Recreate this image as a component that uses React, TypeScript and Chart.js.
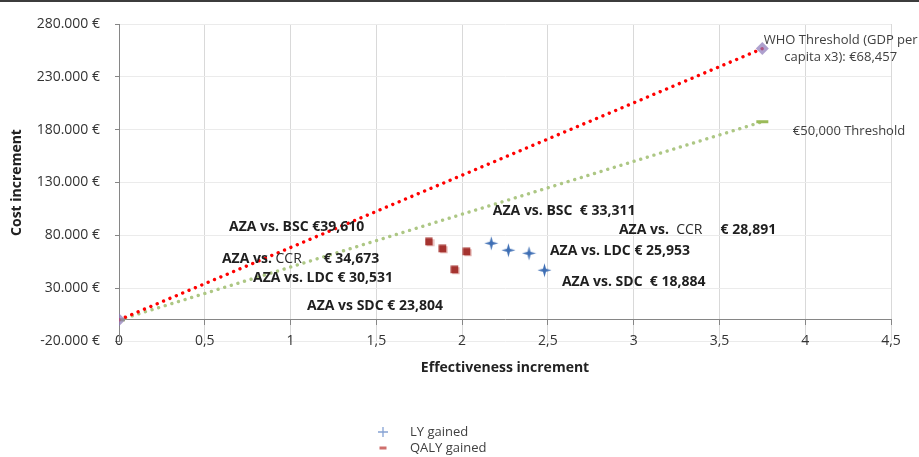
import React, { useEffect, useRef } from "react";
import { Chart, registerables } from "chart.js";

Chart.register(...registerables);

// ---------- data ----------
const xMin = 0;
const xMax = 4.5;
const xStep = 0.5;
const yMin = -20000;
const yMax = 280000;
const yStep = 50000;

const seriesNames = ["LY gained", "QALY gained"];

const lyEffect = [2.17, 2.27, 2.39, 2.48];
const lyCost = [72500, 65900, 63000, 47000];

const qalyEffect = [1.81, 1.89, 2.03, 1.96];
const qalyCost = [73400, 66800, 64000, 47000];

const whoEffect = [0, 3.75];
const whoCost = [0, 256714];

const thr50Effect = [0, 3.75];
const thr50Cost = [0, 187500];

const xTitle = "Effectiveness increment";
const yTitle = "Cost increment";

type Seg = { t: string; bold: boolean };

const qalyLabels: Seg[][] = [
  [{ t: "AZA vs. BSC €39,610", bold: true }],
  [
    { t: "AZA vs. ", bold: true },
    { t: "CCR", bold: false },
    { t: "      € 34,673", bold: true },
  ],
  [{ t: "AZA vs. LDC € 30,531", bold: true }],
  [{ t: "AZA vs SDC € 23,804", bold: true }],
];
const qalyLabelAt: [number, number][] = [
  [0.641, 87500],
  [0.6, 57400],
  [0.781, 39400],
  [1.096, 13000],
];

const lyLabels: Seg[][] = [
  [{ t: "AZA vs. BSC  € 33,311", bold: true }],
  [
    { t: "AZA vs.  ", bold: true },
    { t: "CCR", bold: false },
    { t: "     € 28,891", bold: true },
  ],
  [{ t: "AZA vs. LDC € 25,953", bold: true }],
  [{ t: "AZA vs. SDC  € 18,884", bold: true }],
];
const lyLabelAt: [number, number][] = [
  [2.179, 102600],
  [2.914, 84700],
  [2.512, 64900],
  [2.582, 35700],
];

const whoLabel = ["WHO Threshold (GDP per", "capita x3): €68,457"];
const whoLabelAt: [number, number] = [4.207, 264900];
const thr50Label = "€50,000 Threshold";
const thr50LabelAt: [number, number] = [3.928, 178100];

// ---------- helpers ----------
const FONT = "'Open Sans', 'Noto Sans', sans-serif";

function makeStar(): HTMLCanvasElement {
  const c = document.createElement("canvas");
  c.width = 15;
  c.height = 15;
  const g = c.getContext("2d")!;
  const cx = 7.5,
    cy = 7.5,
    R = 7,
    r = 2.1;
  g.beginPath();
  for (let i = 0; i < 8; i++) {
    const a = -Math.PI / 2 + (i * Math.PI) / 4;
    const rad = i % 2 === 0 ? R : r;
    g.lineTo(cx + rad * Math.cos(a), cy + rad * Math.sin(a));
  }
  g.closePath();
  g.fillStyle = "#3E6EB4";
  g.fill();
  return c;
}

function makeSquare(): HTMLCanvasElement {
  const c = document.createElement("canvas");
  c.width = 10;
  c.height = 10;
  const g = c.getContext("2d")!;
  g.fillStyle = "rgba(205,120,115,0.55)";
  g.fillRect(2, 2, 7.5, 7);
  g.fillStyle = "#A5332F";
  g.fillRect(0.5, 0.5, 7.5, 7.5);
  return c;
}

function fmtThousands(v: number): string {
  const s = Math.abs(Math.round(v)).toString().replace(/\B(?=(\d{3})+(?!\d))/g, ".");
  return (v < 0 ? "-" : "") + s + " €";
}

const annotationPlugin = {
  id: "annotations",
  afterDatasetsDraw(chart: any) {
    const ctx = chart.ctx as CanvasRenderingContext2D;
    const xs = chart.scales.x;
    const ys = chart.scales.y;
    ctx.save();
    ctx.textBaseline = "middle";
    ctx.textAlign = "left";
    const drawSegs = (segs: Seg[], at: [number, number]) => {
      let px = xs.getPixelForValue(at[0]);
      const py = ys.getPixelForValue(at[1]);
      for (const s of segs) {
        ctx.font = (s.bold ? "bold " : "") + "14px " + FONT;
        ctx.fillStyle = s.bold ? "#1F1F1F" : "#2A2A2A";
        ctx.fillText(s.t, px, py);
        px += ctx.measureText(s.t).width;
      }
    };
    qalyLabels.forEach((l, i) => drawSegs(l, qalyLabelAt[i]));
    lyLabels.forEach((l, i) => drawSegs(l, lyLabelAt[i]));

    ctx.font = "13px " + FONT;
    ctx.fillStyle = "#404040";
    ctx.textAlign = "center";
    const wx = xs.getPixelForValue(whoLabelAt[0]);
    const wy = ys.getPixelForValue(whoLabelAt[1]);
    whoLabel.forEach((t, i) => ctx.fillText(t, wx, wy + i * 17));
    ctx.textAlign = "left";
    ctx.fillText(thr50Label, xs.getPixelForValue(thr50LabelAt[0]), ys.getPixelForValue(thr50LabelAt[1]));

    // legend (stacked, below the chart)
    const lx = 383;
    const ly1 = 432;
    const ly2 = 448;
    ctx.strokeStyle = "#86A3D4";
    ctx.lineWidth = 1.3;
    ctx.beginPath();
    ctx.moveTo(lx - 5, ly1);
    ctx.lineTo(lx + 5, ly1);
    ctx.moveTo(lx, ly1 - 5);
    ctx.lineTo(lx, ly1 + 5);
    ctx.stroke();
    ctx.fillStyle = "#CF6F6C";
    ctx.fillRect(lx - 3.5, ly2 - 1.5, 7, 3);
    ctx.fillStyle = "#404040";
    ctx.font = "13px " + FONT;
    ctx.fillText(seriesNames[0], 410, ly1);
    ctx.fillText(seriesNames[1], 410, ly2);

    // top frame line
    ctx.fillStyle = "#3C3C3C";
    ctx.fillRect(0, 0, chart.width, 2);
    ctx.restore();
  },
};

export default function App() {
  const ref = useRef<HTMLCanvasElement | null>(null);

  useEffect(() => {
    if (!ref.current) return;
    Chart.defaults.font.family = FONT;
    const star = makeStar();
    const square = makeSquare();
    const chart = new Chart(ref.current, {
      type: "scatter",
      data: {
        datasets: [
          {
            label: seriesNames[0],
            data: lyEffect.map((x, i) => ({ x, y: lyCost[i] })),
            pointStyle: star as any,
            pointRadius: 7,
            showLine: false,
          },
          {
            label: seriesNames[1],
            data: qalyEffect.map((x, i) => ({ x, y: qalyCost[i] })),
            pointStyle: square as any,
            pointRadius: 5,
            showLine: false,
          },
          {
            label: "WHO Threshold",
            data: whoEffect.map((x, i) => ({ x, y: whoCost[i] })),
            showLine: true,
            borderColor: "#FF0000",
            borderWidth: 3.4,
            borderDash: [0.01, 6.9],
            borderCapStyle: "round",
            tension: 0,
            pointStyle: "rectRot",
            pointRadius: 6.5,
            pointBackgroundColor: "rgba(140,120,185,0.7)",
            pointBorderColor: "rgba(140,120,185,0.7)",
            pointBorderWidth: 0,
          },
          {
            label: "€50,000 Threshold",
            data: thr50Effect.map((x, i) => ({ x, y: thr50Cost[i] })),
            showLine: true,
            borderColor: "#ADC784",
            borderWidth: 3.4,
            borderDash: [0.01, 6.9],
            borderCapStyle: "round",
            tension: 0,
            pointStyle: "line",
            pointRadius: 6,
            pointBorderColor: "#9BBB59",
            pointBorderWidth: 3,
          },
        ],
      },
      options: {
        animation: false,
        responsive: true,
        maintainAspectRatio: false,
        events: [],
        layout: { padding: { top: 24, right: 28, bottom: 116, left: 0 } },
        plugins: {
          legend: { display: false },
          tooltip: { enabled: false },
        },
        scales: {
          x: {
            type: "linear",
            position: { y: 0 } as any,
            min: xMin,
            max: xMax,
            ticks: {
              stepSize: xStep,
              color: "#333333",
              font: { size: 14 },
              padding: 8,
              callback: (v: any) => String(v).replace(".", ","),
            },
            grid: { color: "#D9D9D9", tickColor: "#868686", tickLength: 5 },
            border: { color: "#868686", width: 1 },
            title: {
              display: true,
              text: xTitle,
              color: "#222222",
              font: { size: 14, weight: "bold" },
              padding: { top: 2, bottom: 0 },
            },
          },
          y: {
            type: "linear",
            position: "left",
            min: yMin,
            max: yMax,
            ticks: {
              stepSize: yStep,
              color: "#333333",
              font: { size: 14 },
              padding: 15,
              callback: (v: any) => fmtThousands(Number(v)),
            },
            grid: { color: "#EBEBEB", tickColor: "#868686", tickLength: 4 },
            border: { color: "#868686", width: 1 },
            title: {
              display: true,
              text: yTitle,
              color: "#222222",
              font: { size: 14, weight: "bold" },
              padding: { top: 9, bottom: 0 },
            },
            afterFit: (s: any) => {
              s.width = 119;
            },
          },
        },
      },
      plugins: [annotationPlugin],
    });
    return () => chart.destroy();
  }, []);

  return (
    <div
      style={{
        position: "fixed",
        left: 0,
        top: 0,
        width: 919,
        height: 457,
        background: "#ffffff",
      }}
    >
      <canvas ref={ref} />
    </div>
  );
}
